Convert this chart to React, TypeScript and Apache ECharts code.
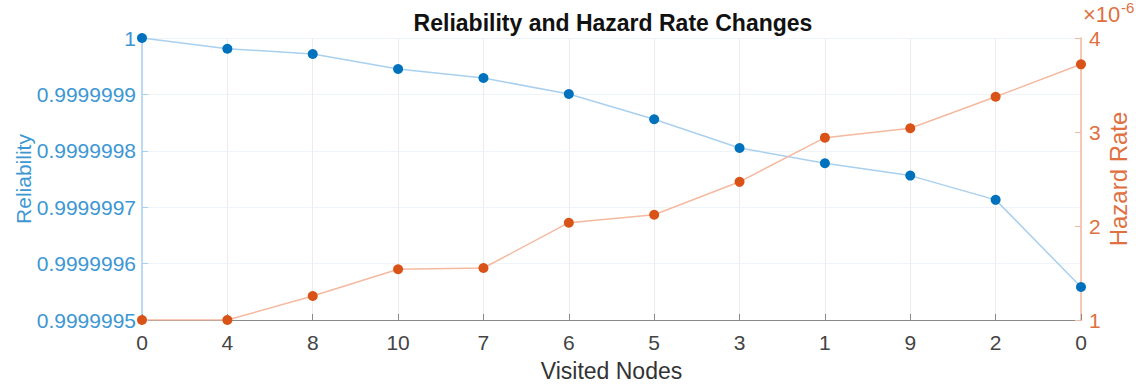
import React, { useEffect, useRef } from "react";
import * as echarts from "echarts";

const nodeLabels = ["0", "4", "8", "10", "7", "6", "5", "3", "1", "9", "2", "0"];
const reliability = [
  1, 0.999999981, 0.9999999716, 0.999999945, 0.999999929, 0.9999999007,
  0.999999856, 0.999999805, 0.999999778, 0.999999756, 0.999999713, 0.9999995585,
];
// Hazard rate in units of 1e-6
const hazardRate = [1, 1, 1.255, 1.54, 1.553, 2.035, 2.12, 2.47, 2.94, 3.04, 3.375, 3.72];
const leftTicks = [0.9999995, 0.9999996, 0.9999997, 0.9999998, 0.9999999, 1];

const BLUE = "#0072BD";
const BLUE_TXT = "#3d97d3";
const BLUE_LINE = "#a9d0ee";
const ORANGE = "#D95319";
const ORANGE_TXT = "#e0703f";
const ORANGE_LINE = "#f5b9a0";
const FONT = "Liberation Sans, Arial, Helvetica, sans-serif";

export default function App() {
  const ref = useRef<HTMLDivElement>(null);
  useEffect(() => {
    if (!ref.current) return;
    const chart = echarts.init(ref.current, undefined, { renderer: "svg" });
    const relData = reliability.map((v, i) => [i, v]);
    const hazData = hazardRate.map((v, i) => [i, v]);
    chart.setOption({
      animation: false,
      backgroundColor: "#ffffff",
      title: {
        text: "Reliability and Hazard Rate Changes",
        left: 608,
        textAlign: "center",
        top: 6,
        textStyle: { fontFamily: FONT, fontSize: 23, fontWeight: "bold", color: "#111" },
      },
      grid: {
        left: 142,
        right: 55,
        top: 38,
        bottom: 65,
        containLabel: false,
        outerBoundsMode: "none",
      },
      xAxis: {
        type: "value",
        min: 0,
        max: nodeLabels.length - 1,
        interval: 1,
        name: "Visited Nodes",
        nameLocation: "middle",
        nameGap: 39,
        nameMoveOverlap: false,
        nameTextStyle: { fontFamily: FONT, fontSize: 23, color: "#333" },
        axisLine: { show: true, onZero: false, lineStyle: { color: "#8a8a8a", width: 1.2 } },
        axisTick: { show: true, inside: true, length: 6, lineStyle: { color: "#8a8a8a" } },
        axisLabel: {
          fontFamily: FONT,
          fontSize: 21,
          color: "#444",
          margin: 12,
          formatter: (v: number) => nodeLabels[Math.round(v)] ?? "",
        },
        splitLine: { show: true, lineStyle: { color: "#ececec", width: 1 } },
      },
      yAxis: [
        {
          type: "value",
          position: "left",
          min: 0.9999995,
          max: 1,
          interval: 0.0000001,
          name: "Reliability",
          nameLocation: "middle",
          nameRotate: 90,
          nameGap: 108,
          nameMoveOverlap: false,
          nameTextStyle: { fontFamily: FONT, fontSize: 21, color: BLUE_TXT },
          axisLine: { show: true, lineStyle: { color: BLUE_LINE, width: 1.5 } },
          axisTick: { show: true, inside: true, length: 6, lineStyle: { color: BLUE_LINE } },
          axisLabel: {
            fontFamily: FONT,
            fontSize: 21,
            color: BLUE_TXT,
            margin: 6,
            formatter: (v: number) => {
              let best = leftTicks[0];
              for (const t of leftTicks) if (Math.abs(t - v) < Math.abs(best - v)) best = t;
              return best === 1 ? "1" : best.toFixed(7);
            },
          },
          splitLine: { show: true, lineStyle: { color: "#eef4fa", width: 1 } },
        },
        {
          type: "value",
          position: "right",
          min: 1,
          max: 4,
          interval: 1,
          name: "Hazard Rate",
          nameLocation: "middle",
          nameRotate: 90,
          nameGap: 25,
          nameMoveOverlap: false,
          nameTextStyle: { fontFamily: FONT, fontSize: 24, color: ORANGE_TXT },
          axisLine: { show: true, lineStyle: { color: ORANGE_LINE, width: 1.5 } },
          axisTick: { show: true, inside: true, length: 6, lineStyle: { color: ORANGE_LINE } },
          axisLabel: { fontFamily: FONT, fontSize: 21, color: ORANGE_TXT, margin: 8 },
          splitLine: { show: false },
        },
      ],
      graphic: [
        {
          type: "text",
          left: 1083,
          top: 3,
          style: { text: "×10", fontFamily: FONT, fontSize: 22, fill: ORANGE_TXT },
        },
        {
          type: "text",
          left: 1121,
          top: 0,
          style: { text: "-6", fontFamily: FONT, fontSize: 15, fill: ORANGE_TXT },
        },
      ],
      series: [
        {
          type: "line",
          yAxisIndex: 0,
          data: relData,
          symbol: "circle",
          symbolSize: 10,
          itemStyle: { color: BLUE },
          lineStyle: { color: BLUE_LINE, width: 1.5 },
          z: 3,
        },
        {
          type: "line",
          yAxisIndex: 1,
          data: hazData,
          symbol: "circle",
          symbolSize: 10,
          itemStyle: { color: ORANGE },
          lineStyle: { color: ORANGE_LINE, width: 1.5 },
          z: 3,
        },
      ],
    });
    return () => chart.dispose();
  }, []);
  return (
    <div
      ref={ref}
      style={{ position: "fixed", left: 0, top: 0, width: 1136, height: 385 }}
    />
  );
}
